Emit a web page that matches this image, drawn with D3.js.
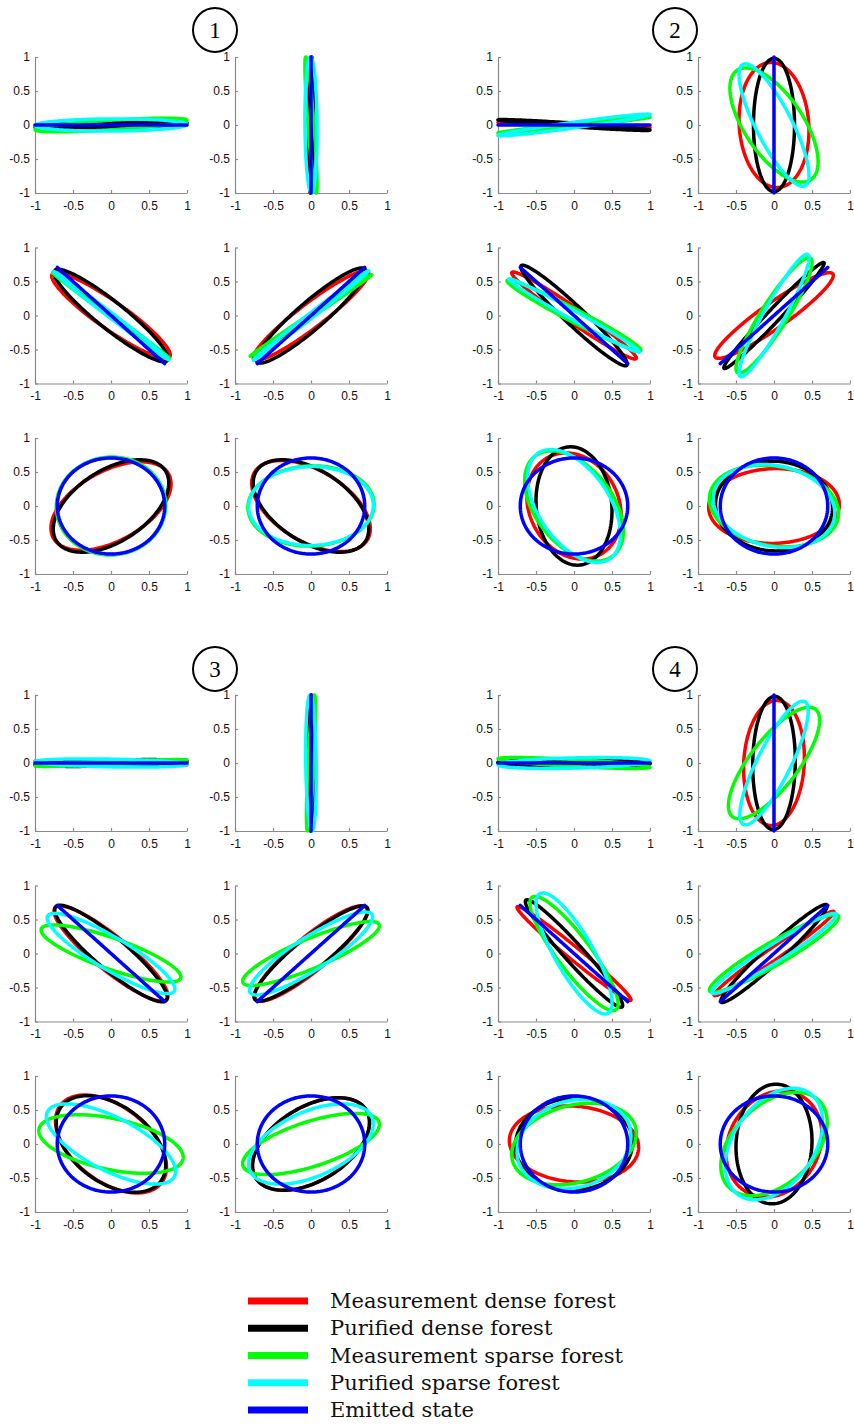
<!DOCTYPE html>
<html><head><meta charset="utf-8">
<script src="https://cdn.jsdelivr.net/npm/d3@7"></script>
<style>body{margin:0;background:#fff}svg{display:block}</style>
</head><body><svg id="c" width="854" height="1426"></svg>
<script>
// ---- data ----
const groups = ["1", "2", "3", "4"];
const seriesNames = ["Measurement dense forest", "Purified dense forest", "Measurement sparse forest", "Purified sparse forest", "Emitted state"];
const seriesColors = ["#ff0000", "#000000", "#00ff00", "#00ffff", "#0000ff"];
const ticks = [-1, -0.5, 0, 0.5, 1];
const tickLabels = ["-1", "-0.5", "0", "0.5", "1"];
// Polarization ellipse per panel: [Ex amplitude, Ey amplitude, phase difference in degrees]
// Panel order in each group: H, V, -45, +45, circular A, circular B ; groups 1..4
const measDense = [
  [1.0,0.04,40],[0.02,1.0,60],[0.78,0.63,157],[0.76,0.66,20],[0.79,0.65,60],[0.78,0.67,120],
  [1.0,0.04,170],[0.46,0.92,95],[0.82,0.64,168],[0.78,0.63,21],[0.62,0.78,100],[0.86,0.55,88],
  [1.0,0.03,150],[0.03,1.0,90],[0.75,0.70,153],[0.74,0.70,27],[0.73,0.72,118],[0.77,0.68,62],
  [1.0,0.03,100],[0.40,0.92,85],[0.75,0.69,170],[0.79,0.62,10],[0.85,0.56,95],[0.63,0.78,80]
];
const purDense = [
  [1.0,0.04,60],[0.03,1.0,80],[0.75,0.68,158],[0.72,0.70,22],[0.76,0.68,60],[0.76,0.68,120],
  [1.0,0.08,160],[0.27,0.98,90],[0.70,0.74,165],[0.66,0.78,10],[0.50,0.87,95],[0.77,0.66,92],
  [1.0,0.05,60],[0.03,1.0,80],[0.74,0.71,155],[0.75,0.70,25],[0.72,0.71,116],[0.77,0.68,62],
  [1.0,0.05,100],[0.28,0.98,88],[0.64,0.79,165],[0.70,0.72,14],[0.77,0.68,88],[0.50,0.88,87]
];
const measSparse = [
  [1.0,0.10,45],[0.08,1.0,150],[0.77,0.63,177],[0.80,0.60,3],[0.72,0.72,89],[0.83,0.59,88],
  [1.0,0.12,12],[0.58,0.84,130],[0.88,0.52,168],[0.50,0.85,24],[0.65,0.81,117],[0.85,0.60,100],
  [1.0,0.05,30],[0.06,1.0,40],[0.92,0.42,145],[0.90,0.47,30],[0.95,0.43,117],[0.90,0.45,50],
  [1.0,0.08,140],[0.60,0.82,40],[0.58,0.84,152],[0.85,0.57,20],[0.82,0.60,75],[0.70,0.76,65]
];
const purSparse = [
  [1.0,0.09,85],[0.08,1.0,95],[0.76,0.65,176],[0.76,0.66,4],[0.71,0.71,90],[0.82,0.58,89],
  [1.0,0.16,15],[0.46,0.90,145],[0.86,0.54,172],[0.46,0.90,20],[0.61,0.83,120],[0.80,0.61,100],
  [1.0,0.06,110],[0.07,1.0,100],[0.84,0.59,152],[0.81,0.61,28],[0.85,0.59,133],[0.82,0.59,60],
  [1.0,0.08,70],[0.45,0.91,33],[0.50,0.89,145],[0.82,0.59,15],[0.75,0.66,80],[0.64,0.82,67]
];
// Emitted states (same for every group): H, V, -45, +45, circular, circular
const emitted = [[1.0,0.0,0],[0.0,1.0,0],[0.707,0.707,180],[0.707,0.707,0],[0.707,0.707,90],[0.707,0.707,90]];

// ---- layout ----
const svg = d3.select("#c");
const W = 152, H = 136;
const x = d3.scaleLinear().domain([-1, 1]).range([0, W]);
const y = d3.scaleLinear().domain([-1, 1]).range([H, 0]);
const groupX = [0, 463], groupY = [0, 638];
const colStep = 200, rowStep = 190.5;
const left0 = 35, top0 = 57;

const tSamples = d3.range(0, 2 * Math.PI, Math.PI / 90);
const line = d3.line().x(d => x(d[0])).y(d => y(d[1])).curve(d3.curveLinearClosed);
function ellipsePts(p) {
  const [ex, ey, dd] = p, dl = dd * Math.PI / 180;
  return tSamples.map(t => [ex * Math.cos(t), ey * Math.cos(t + dl)]);
}

const seriesData = [measDense, purDense, measSparse, purSparse];

groups.forEach((gName, g) => {
  const gx = groupX[g % 2], gy = groupY[Math.floor(g / 2)];
  for (let k = 0; k < 6; k++) {
    const col = k % 2, row = Math.floor(k / 2);
    const px = left0 + gx + col * colStep, py = top0 + gy + row * rowStep;
    const panel = svg.append("g").attr("transform", `translate(${px},${py})`);
    const ax = d3.axisBottom(x).tickValues(ticks).tickFormat((d, i) => tickLabels[i])
      .tickSizeInner(-3).tickSizeOuter(0).tickPadding(8);
    const ay = d3.axisLeft(y).tickValues(ticks).tickFormat((d, i) => tickLabels[i])
      .tickSizeInner(-3).tickSizeOuter(0).tickPadding(5);
    [panel.append("g").attr("transform", `translate(0,${H})`).call(ax),
     panel.append("g").call(ay)].forEach(a => {
      a.attr("font-family", "'Liberation Sans', Arial, sans-serif").attr("font-size", 12);
      a.selectAll("path, line").attr("stroke", "#8a8a8a").attr("stroke-width", 1.2);
      a.selectAll("text").attr("fill", "#111");
    });
    const data = seriesData.map(s => s[g * 6 + k]).concat([emitted[k]]);
    panel.selectAll("path.ell").data(data).join("path")
      .attr("class", "ell")
      .attr("d", d => line(ellipsePts(d)))
      .attr("fill", "none")
      .attr("stroke", (d, i) => seriesColors[i])
      .attr("stroke-width", 3.5)
      .attr("stroke-linejoin", "round");
  }
  // group label circle
  const cx = [215, 675][g % 2], cy = [30, 669][Math.floor(g / 2)];
  svg.append("circle").attr("cx", cx).attr("cy", cy).attr("r", 22)
    .attr("fill", "#fff").attr("stroke", "#000").attr("stroke-width", 2);
  svg.append("text").attr("x", cx).attr("y", cy + 8).attr("text-anchor", "middle")
    .attr("font-family", "'Liberation Serif', 'DejaVu Serif', serif").attr("font-size", 23)
    .text(gName);
});

// ---- legend ----
const lg = svg.append("g");
const legY = d3.scaleLinear().domain([0, 4]).range([1301, 1410]);
seriesNames.forEach((name, i) => {
  lg.append("line").attr("x1", 248).attr("x2", 308).attr("y1", legY(i)).attr("y2", legY(i))
    .attr("stroke", seriesColors[i]).attr("stroke-width", 7);
  lg.append("text").attr("x", 330).attr("y", legY(i) + 7)
    .attr("font-family", "'DejaVu Serif', serif").attr("font-size", 21).attr("fill", "#111")
    .text(name);
});
</script></body></html>
